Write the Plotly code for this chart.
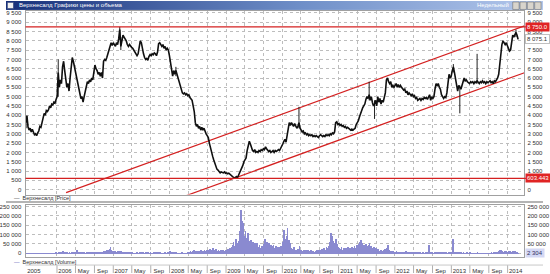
import base64
import pandas as pd
import plotly.graph_objects as go

# ---------------- data (weekly, Mondays) ----------------
close_2005 = [3600, 3950, 3400, 3200, 3300, 3100, 3250, 3050, 2950, 3000, 2900, 3050, 3150, 3400, 3350,
              3600, 3800, 4100, 4000, 4250, 4200, 4300, 4500, 4400, 4600, 4550, 4700, 4650, 4850]
close_2006 = [5000, 6300, 5500, 5900, 5700, 6600, 6900, 6400, 5800, 5500, 5700, 5300, 6000, 6700, 7100, 6900,
              6600, 6500, 6100, 5800, 5400, 5200, 4900, 5000, 4700, 5000, 5300, 5600, 5800, 5700, 5900, 5800,
              6000, 5900, 6500, 6700, 6500, 6400, 6200, 6300, 6100, 6300, 6000, 6900, 7000, 6950, 7100, 7300,
              7600, 7800, 7900, 7750]
close_2007 = [7900, 7800, 7700, 7900, 7800, 8100, 8600, 7700, 8000, 8300, 8200, 8100, 8000, 7800, 7700, 7800,
              7700, 7650, 7600, 7500, 7400, 7300, 7200, 7300, 7700, 8000, 7900, 7500, 7300, 7100, 7000, 7050,
              6950, 7150, 7250, 7200, 7300, 7250, 7350, 7300, 7200, 7400, 7850, 7900, 7800, 7700, 7800, 7600,
              7700, 7500, 7600, 7500, 7200]
close_2008 = [6800, 6300, 6100, 6400, 6200, 6400, 6200, 6000, 5800, 5500, 5400, 5200, 5150, 5200, 5100, 5150,
              5050, 5100, 4950, 4900, 4800, 4500, 4200, 3600, 3400, 3500, 3300, 3400, 3200, 3350, 3200, 3300,
              3100, 3000, 2900, 2800, 2500, 2200, 2000, 1800, 1600, 1400, 1250, 1100, 1050, 950, 900, 950,
              920, 900, 950, 880]
close_2009 = [900, 850, 880, 820, 780, 720, 650, 620, 650, 700, 640, 760, 900, 1000, 1150, 1300, 1500, 1600,
              1700, 2100, 2350, 2600, 2450, 2200, 2100, 2050, 2150, 2000, 2050, 2000, 2100, 2050, 2150, 2100,
              2200, 2150, 2300, 2200, 2100, 2050, 2100, 2000, 2050, 2100, 2000, 2100, 2050, 2100, 2150, 2100,
              2200, 2300]
close_2010 = [2450, 2600, 2700, 2550, 2900, 3400, 3600, 3450, 3600, 3500, 3400, 3550, 3400, 3300, 3400, 3600,
              3300, 3200, 3100, 3150, 3000, 3050, 2950, 3000, 2900, 2950, 2900, 2950, 2850, 2900, 2850, 2900,
              2850, 2800, 2900, 2950, 2900, 2850, 2900, 2850, 2950, 2900, 2950, 2900, 3000, 2950, 3050, 3000,
              3100, 3600, 3650, 3500]
close_2011 = [3550, 3450, 3500, 3400, 3450, 3350, 3400, 3300, 3350, 3300, 3250, 3200, 3250, 3200, 3250, 3300,
              3500, 3600, 3700, 3900, 4100, 4300, 4400, 4500, 4600, 4850, 5000, 4900, 5100, 4800, 5000, 4700,
              4500, 4600, 4800, 4500, 5000, 4700, 4900, 4600, 4800, 4700, 4900, 5200, 5900, 6000, 5800, 5700,
              5800, 5500, 5600, 5500]
close_2012 = [5600, 5700, 5500, 5650, 5500, 5600, 5500, 5450, 5350, 5400, 5200, 5300, 5100, 5200, 5100, 5050,
              5150, 5000, 5050, 4900, 4950, 4800, 4850, 4900, 4800, 4900, 4850, 4950, 4900, 4950, 4850, 5000,
              5100, 4800, 5000, 4900, 5000, 5400, 5700, 5600, 5700, 5500, 5400, 5100, 5000, 4900, 5000, 4950,
              5200, 5800, 6200, 6000, 6100]
close_2013 = [6400, 6600, 6300, 5900, 5500, 5300, 5600, 5500, 5400, 5600, 5900, 6000, 5850, 5900, 5800, 5750,
              5700, 5800, 5750, 5800, 5700, 5800, 5750, 5850, 5800, 5700, 5800, 5750, 5850, 5750, 5800, 5700,
              5800, 5750, 5800, 5850, 5750, 5800, 5700, 5850, 5800, 5900, 6000, 6200, 6800, 7300, 7800, 8000,
              7900, 7800, 7900, 7750]
close_2014 = [7600, 7450, 7500, 8000, 8300, 8200, 8350, 8450, 8300, 8075.1]

# weekly volume, thousands of shares
vol_2005 = [1.2, 2.5, 1.0, 0.8, 1.5, 1.2, 0.9, 1.8, 1.1, 1.4, 0.8, 1.6, 2.0, 1.5, 2.4, 1.8, 3.0, 2.2, 1.5,
            2.6, 1.8, 2.0, 2.5, 3.2, 2.1, 2.8, 2.4, 3.5, 4.0]
vol_2006 = [3, 5, 4, 6, 5, 12, 8, 4, 5, 4, 3, 5, 3, 6, 4, 5, 8, 7, 20, 6, 5, 4, 5, 6, 4, 5, 3, 4, 6, 5, 4,
            8, 5, 6, 7, 5, 6, 4, 7, 5, 6, 9, 7, 12, 15, 10, 22, 18, 25, 38, 20, 16]
vol_2007 = [14, 12, 10, 8, 12, 10, 16, 14, 8, 7, 6, 5, 4, 4, 3, 5, 3, 4, 3, 2.5, 3, 4, 5, 3, 6, 4, 3, 4,
            2.5, 3, 5, 6, 4, 3, 3.5, 2.5, 3, 4, 3, 4, 3, 5, 6, 4, 3, 2.5, 3, 3.5, 4, 3, 5, 8, 12]
vol_2008 = [10, 8, 6, 4, 3, 5, 3, 2.5, 3, 2, 3.5, 2.5, 3, 2, 3, 2.5, 4, 9, 12, 8, 15, 18, 12, 14, 10, 16,
            13, 11, 18, 12, 15, 20, 13, 17, 22, 15, 25, 18, 20, 30, 22, 18, 25, 15, 20, 12, 18, 14, 22, 16,
            12, 20]
vol_2009 = [18, 25, 15, 30, 35, 45, 60, 40, 80, 50, 55, 70, 120, 232, 175, 162, 95, 120, 85, 110, 70, 60, 75,
            50, 65, 45, 55, 40, 58, 35, 45, 30, 42, 38, 50, 80, 45, 60, 40, 55, 35, 48, 42, 45, 30, 40, 35,
            28, 38, 30, 42, 35]
vol_2010 = [60, 127, 80, 95, 140, 75, 55, 30, 25, 20, 35, 18, 22, 15, 25, 40, 20, 18, 12, 22, 15, 20, 12, 18,
            10, 15, 20, 12, 16, 10, 15, 22, 12, 18, 14, 20, 25, 15, 30, 22, 35, 28, 40, 60, 110, 95, 70, 45,
            55, 80, 50, 35]
vol_2011 = [30, 25, 35, 22, 28, 20, 32, 25, 38, 22, 30, 26, 35, 28, 40, 30, 45, 35, 50, 60, 75, 55, 40, 45,
            38, 50, 42, 48, 55, 40, 30, 25, 35, 20, 28, 18, 25, 15, 22, 20, 12, 18, 25, 15, 30, 45, 20, 15,
            12, 8, 15, 10]
vol_2012 = [8, 12, 6, 10, 7, 9, 5, 11, 6, 8, 12, 7, 5, 6, 9, 4, 7, 5, 6, 4, 8, 5, 4, 6, 3, 5, 4, 3, 6, 4, 5,
            45, 6, 4, 5, 3, 5, 4, 6, 5, 4, 7, 3, 5, 4, 3, 5, 4, 3, 5, 4, 6, 4]
vol_2013 = [80, 8, 5, 4, 5, 3, 6, 4, 4, 3, 5, 3, 3, 4, 2.5, 3, 4, 3, 2.5, 3, 2, 3, 2, 4, 3, 2.5, 3, 2, 3,
            2.5, 2, 3, 2.5, 3, 3, 2.5, 4, 3, 3.5, 4, 3, 5, 6, 12, 18, 20, 15, 10, 16, 12, 8, 10]
vol_2014 = [12, 15, 10, 8, 14, 10, 12, 8, 6, 2.304]

year_first_monday = ["2005-06-13", "2006-01-02", "2007-01-01", "2008-01-07", "2009-01-05",
                     "2010-01-04", "2011-01-03", "2012-01-02", "2013-01-07", "2014-01-06"]

# notable weekly high/low wicks: date, low, high
wick_dates = ["2005-06-20", "2006-01-09", "2007-02-12", "2007-02-19", "2008-02-11", "2010-04-19",
              "2011-07-18", "2011-08-22", "2013-01-14", "2013-02-25", "2013-06-17", "2014-02-24"]
wick_low = [3300, 5000, 8050, 7500, 6100, 3300, 4800, 3800, 6300, 4100, 5700, 8200]
wick_high = [4000, 7000, 8750, 8200, 6600, 4450, 5800, 4800, 6750, 5600, 7300, 8600]

# drawn channel (trend lines) and horizontal levels
upper_dates = ["2006-03-01", "2014-04-20"]
upper_prices = [-160, 8800]
lower_dates = ["2008-04-01", "2014-04-20"]
lower_prices = [-374, 6284]
level_high = 8750
level_low = 603
level_high_label = "8 750.0"
level_low_label = "603.443"
last_close_label = "8 075.1"
last_volume_label = "2 304"

x_range = ["2005-06-11", "2014-04-20"]
tick_dates = ["2005-06-13", "2006-01-01", "2006-05-01", "2006-09-01", "2007-01-01", "2007-05-01", "2007-09-01",
              "2008-01-01", "2008-05-01", "2008-09-01", "2009-01-01", "2009-05-01", "2009-09-01",
              "2010-01-01", "2010-05-01", "2010-09-01", "2011-01-01", "2011-05-01", "2011-09-01",
              "2012-01-01", "2012-05-01", "2012-09-01", "2013-01-01", "2013-05-01", "2013-09-01", "2014-01-01"]
tick_labels = ["2005", "2006", "May", "Sep", "2007", "May", "Sep", "2008", "May", "Sep", "2009", "May", "Sep",
               "2010", "May", "Sep", "2011", "May", "Sep", "2012", "May", "Sep", "2013", "May", "Sep", "2014"]
price_ticks = list(range(0, 9501, 500))
right_price_ticks = [0, 1000, 1500, 2000, 2500, 3000, 3500, 4000, 4500, 5000, 5500, 6000, 6500, 7000, 7500,
                     8500, 9000, 9500]
volume_ticks = [0, 50000, 100000, 150000, 200000, 250000]
right_volume_ticks = [50000, 100000, 150000, 200000, 250000]

# ---------------- assemble series ----------------
close_years = [close_2005, close_2006, close_2007, close_2008, close_2009, close_2010, close_2011,
               close_2012, close_2013, close_2014]
vol_years = [vol_2005, vol_2006, vol_2007, vol_2008, vol_2009, vol_2010, vol_2011, vol_2012, vol_2013, vol_2014]
dates, closes, vdates, vols = [], [], [], []
for start, c in zip(year_first_monday, close_years):
    dates += list(pd.date_range(start, periods=len(c), freq="7D"))
    closes += c
for start, v in zip(year_first_monday, vol_years):
    vdates += list(pd.date_range(start, periods=len(v), freq="7D"))
    vols += [k * 1000 for k in v]

wx, wy = [], []
for d, lo, hi in zip(wick_dates, wick_low, wick_high):
    wx += [d, d, None]
    wy += [lo, hi, None]

W, H = 550, 274
FONT = "Liberation Sans"
def px_y(p):
    return 1 - p / H

fig = go.Figure()
fig.add_trace(go.Scatter(x=upper_dates, y=upper_prices, mode="lines", line=dict(color="#d42020", width=1.2),
                         xaxis="x", yaxis="y", hoverinfo="skip"))
fig.add_trace(go.Scatter(x=lower_dates, y=lower_prices, mode="lines", line=dict(color="#d42020", width=1.2),
                         xaxis="x", yaxis="y", hoverinfo="skip"))
fig.add_trace(go.Scatter(x=wx, y=wy, mode="lines", line=dict(color="#202020", width=1), xaxis="x", yaxis="y"))
fig.add_trace(go.Scatter(x=dates, y=closes, mode="lines", line=dict(color="#101010", width=1.6),
                         xaxis="x", yaxis="y"))
fig.add_trace(go.Scatter(x=[], y=[], xaxis="x", yaxis="y3"))
fig.add_trace(go.Bar(x=vdates, y=vols, width=5 * 86400000, marker=dict(color="#8a8ad0", line=dict(width=0)),
                     xaxis="x2", yaxis="y2"))
fig.add_trace(go.Scatter(x=[], y=[], xaxis="x2", yaxis="y4"))

xdom = [20 / W, 531 / W]
grid = dict(showgrid=True, gridcolor="#bdbdbd", griddash="dot", gridwidth=1, zeroline=False)
tickfont = dict(family=FONT, size=6, color="#303030")
frame = dict(showline=True, linecolor="#a0a0a0", linewidth=1, mirror=True)

fig.update_layout(
    width=W, height=H, margin=dict(l=0, r=0, t=0, b=0),
    paper_bgcolor="white", plot_bgcolor="white", showlegend=False, bargap=0,
    separators=". ",
    xaxis=dict(domain=xdom, anchor="y", type="date", range=x_range, tickvals=tick_dates,
               showticklabels=False, ticks="", **grid, **frame),
    yaxis=dict(domain=[px_y(195), px_y(10)], range=[-267, 9607], tickvals=price_ticks, tickformat=",d",
               tickfont=tickfont, ticks="", ticklabelstandoff=2, **grid, **frame),
    yaxis3=dict(overlaying="y", side="right", anchor="x", range=[-267, 9607], tickvals=right_price_ticks,
                tickformat=",d", tickfont=tickfont, showgrid=False, zeroline=False, ticks="",
                ticklabelstandoff=2),
    xaxis2=dict(domain=xdom, anchor="y2", type="date", range=x_range, tickvals=tick_dates, ticktext=tick_labels,
                tickfont=tickfont, ticks="", ticklabelshift=8, ticklabelstandoff=8, **grid, **frame),
    yaxis2=dict(domain=[px_y(258), px_y(205)], range=[-21277, 260640], tickvals=volume_ticks, tickformat=",d",
                tickfont=tickfont, ticks="", ticklabelstandoff=2, **grid, **frame),
    yaxis4=dict(overlaying="y2", side="right", anchor="x2", range=[-21277, 260640], tickvals=right_volume_ticks,
                tickformat=",d", tickfont=tickfont, showgrid=False, zeroline=False, ticks="",
                ticklabelstandoff=2),
)

shapes = []
for lvl in (level_high, level_low):
    shapes.append(dict(type="line", xref="x domain", yref="y", x0=0, x1=1.003, y0=lvl, y1=lvl,
                       line=dict(color="#d42020", width=1.3)))
# splitter between panes
shapes.append(dict(type="line", xref="paper", yref="paper", x0=0, x1=1, y0=px_y(202.5), y1=px_y(202.5),
                   line=dict(color="#b4b4b4", width=2)))
# time-axis cell separators
for d in tick_dates[1:]:
    shapes.append(dict(type="line", xref="x2", yref="paper", x0=d, x1=d, y0=px_y(274), y1=px_y(266),
                       line=dict(color="#b0b0b0", width=1)))
shapes.append(dict(type="line", xref="paper", yref="paper", x0=xdom[0], x1=1, y0=px_y(266), y1=px_y(266),
                   line=dict(color="#c8c8c8", width=1)))
# title bar buttons
for i in range(4):
    x0 = (519 + i * 7.5) / W
    shapes.append(dict(type="rect", xref="paper", yref="paper", x0=x0, x1=x0 + 6.5 / W, y0=px_y(8.5),
                       y1=px_y(1), fillcolor="#d8d4cc", line=dict(color="#606060", width=0.5)))
fig.update_layout(shapes=shapes)

svg = ("<svg xmlns='http://www.w3.org/2000/svg' width='550' height='9'><defs>"
       "<linearGradient id='g' x1='0' x2='1' y1='0' y2='0'>"
       "<stop offset='0' stop-color='#17307a'/><stop offset='0.55' stop-color='#6f8fc8'/>"
       "<stop offset='1' stop-color='#b4c8ec'/></linearGradient></defs>"
       "<rect width='550' height='9' fill='url(#g)'/>"
       "<rect x='1.5' y='1.5' width='6' height='6' fill='#f0f0f0' stroke='#405080' stroke-width='0.6'/></svg>")
fig.add_layout_image(dict(source="data:image/svg+xml;base64," + base64.b64encode(svg.encode()).decode(),
                          xref="paper", yref="paper", x=0, y=1, sizex=1, sizey=9 / H, sizing="stretch",
                          xanchor="left", yanchor="top", layer="above"))

ann = []
ann.append(dict(text="Верхнесалд Графики цены и объема", xref="paper", yref="paper", x=11 / W, y=px_y(4.5),
                xanchor="left", yanchor="middle", showarrow=False, font=dict(family=FONT, size=6, color="white")))
ann.append(dict(text="Недельный", xref="paper", yref="paper", x=517 / W, y=px_y(4.5),
                xanchor="right", yanchor="middle", showarrow=False, font=dict(family=FONT, size=6, color="white")))
ann.append(dict(text="<span style='color:#404040'>—</span>  Верхнесалд [Price]", xref="paper", yref="paper",
                x=6 / W, y=px_y(198.5), xanchor="left", yanchor="middle", showarrow=False,
                font=dict(family=FONT, size=5.5, color="#303030")))
ann.append(dict(text="<span style='color:#5a5ab8'>—</span>  Верхнесалд [Volume]", xref="paper", yref="paper",
                x=6 / W, y=px_y(263), xanchor="left", yanchor="middle", showarrow=False,
                font=dict(family=FONT, size=5.5, color="#303030")))
box = dict(xref="paper", x=532 / W, xanchor="left", yanchor="middle", showarrow=False, borderpad=1)
ann.append(dict(box, text=level_high_label, yref="y", y=level_high, bgcolor="#e02424",
                font=dict(family=FONT, size=6, color="white")))
ann.append(dict(box, text=last_close_label, yref="y", y=closes[-1], bgcolor="white", bordercolor="#c0c0c0",
                font=dict(family=FONT, size=6, color="#303030")))
ann.append(dict(box, text=level_low_label, yref="y", y=level_low, bgcolor="#e02424",
                font=dict(family=FONT, size=6, color="white")))
ann.append(dict(box, text=last_volume_label, yref="y2", y=vols[-1], bgcolor="#d4d8f4",
                font=dict(family=FONT, size=6, color="#303060")))
fig.update_layout(annotations=ann)

fig.write_html("out.html")
